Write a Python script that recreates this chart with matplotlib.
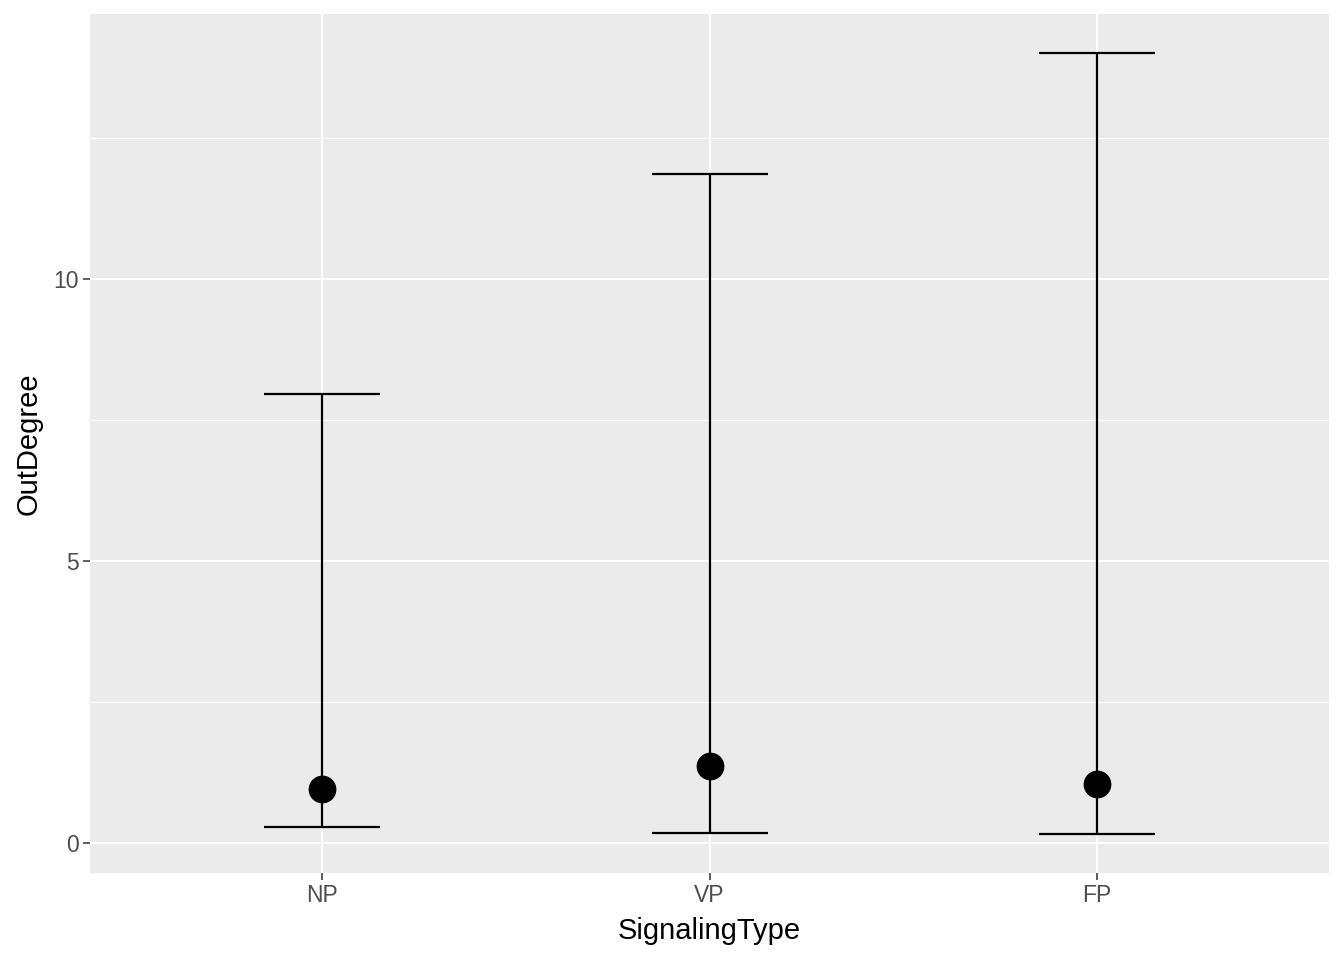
import numpy as np
import matplotlib.pyplot as plt
from matplotlib.ticker import MultipleLocator

# values
signaling_type = ['NP', 'VP', 'FP']
out_degree_mean = [0.96, 1.36, 1.05]
out_degree_low = [0.28, 0.18, 0.16]
out_degree_high = [7.95, 11.85, 14.0]

plt.rcParams['font.family'] = ['Liberation Sans', 'DejaVu Sans']

fig = plt.figure(figsize=(13.44, 9.6), dpi=100)
ax = fig.add_axes([90 / 1344, 1 - 873 / 960, 1239 / 1344, 859 / 960])
ax.set_facecolor('#EBEBEB')

x = np.arange(len(signaling_type))
mean = np.array(out_degree_mean)
yerr = [mean - np.array(out_degree_low), np.array(out_degree_high) - mean]

ax.errorbar(x, mean, yerr=yerr, fmt='none', ecolor='black',
            elinewidth=1.6, capsize=42, capthick=1.6, zorder=3)
ax.plot(x, mean, 'o', color='black', markersize=19, zorder=4)

# ggplot-style expansion
lo, hi = min(out_degree_low), max(out_degree_high)
pad = 0.05 * (hi - lo)
ax.set_ylim(lo - pad, hi + pad)
ax.set_xlim(-0.6, len(signaling_type) - 1 + 0.6)

ax.set_xticks(x)
ax.set_xticklabels(signaling_type)
ax.yaxis.set_major_locator(MultipleLocator(5))
ax.yaxis.set_minor_locator(MultipleLocator(2.5))

ax.grid(which='major', color='white', linewidth=1.5)
ax.grid(which='minor', axis='y', color='white', linewidth=0.75)
ax.set_axisbelow(True)
for s in ax.spines.values():
    s.set_visible(False)

ax.tick_params(axis='both', which='major', length=5, width=1.1,
               color='#333333', labelcolor='#4D4D4D', labelsize=16.5, pad=3)
ax.tick_params(axis='y', which='minor', length=0)

ax.set_xlabel('SignalingType', fontsize=21, labelpad=7)
ax.set_ylabel('OutDegree', fontsize=21, labelpad=8)

fig.savefig('out.png', dpi=100)
